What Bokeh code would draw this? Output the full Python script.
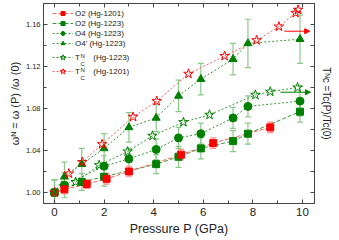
import math
from bokeh.plotting import figure
from bokeh.models import (Range1d, LinearAxis, FixedTicker, PrintfTickFormatter, ColumnDataSource,
                          Whisker, TeeHead, Legend, LegendItem, Arrow, NormalHead, Label)
from bokeh.embed import file_html
from bokeh.resources import INLINE

# ---------------- data ----------------
p_o2_1201 = [0.4, 1.3, 2.1, 3.0, 5.1, 6.4, 8.7]
w_o2_1201 = [1.003, 1.008, 1.013, 1.020, 1.036, 1.047, 1.062]
e_o2_1201 = [0.004, 0.004, 0.005, 0.005, 0.005, 0.005, 0.005]

p_o2_1223 = [0.0, 1.1, 2.0, 4.1, 5.0, 5.9, 7.2, 7.8, 9.9]
w_o2_1223 = [1.000, 1.010, 1.015, 1.027, 1.034, 1.042, 1.049, 1.056, 1.077]
e_o2_1223 = [0.012, 0.008, 0.009, 0.009, 0.010, 0.010, 0.010, 0.010, 0.010]

p_o4_1223 = [0.0, 0.4, 2.0, 3.0, 4.1, 5.0, 5.9, 7.2, 7.8, 9.9]
w_o4_1223 = [1.000, 1.007, 1.025, 1.032, 1.041, 1.052, 1.056, 1.071, 1.082, 1.087]
e_o4_1223 = [0.012, 0.012, 0.010, 0.010, 0.010, 0.010, 0.010, 0.010, 0.010, 0.014]

p_o4p_1223 = [0.0, 0.4, 1.1, 2.0, 3.0, 4.1, 5.0, 5.9, 7.2, 7.8, 9.9]
w_o4p_1223 = [1.000, 1.015, 1.027, 1.042, 1.062, 1.071, 1.092, 1.108, 1.127, 1.142, 1.146]
e_o4p_1223 = [0.012, 0.014, 0.015, 0.014, 0.014, 0.013, 0.015, 0.015, 0.015, 0.023, 0.023]

p_tc_1223 = [0.85, 1.8, 2.95, 3.95, 5.2, 6.25, 8.1, 8.7, 9.8]
t_tc_1223 = [1.010, 1.026, 1.039, 1.054, 1.067, 1.074, 1.093, 1.096, 1.100]

p_tc_1201 = [0.0, 0.58, 1.12, 1.92, 3.17, 4.12, 5.4, 6.86, 8.15, 9.05, 9.72, 9.82]
t_tc_1201 = [1.000, 1.018, 1.029, 1.046, 1.072, 1.087, 1.113, 1.130, 1.145, 1.158, 1.171, 1.174]

x_major = [0, 2, 4, 6, 8, 10]
x_minor = [1, 3, 5, 7, 9]
y_major = [1.00, 1.04, 1.08, 1.12, 1.16]
y_minor = [1.02, 1.06, 1.10, 1.14]
y_right = [1.00, 1.02, 1.04, 1.06, 1.08, 1.10, 1.12, 1.14, 1.16]

# arrows pointing to the right-hand axis (data units)
arrow_red = (9.27, 10.29, 1.1536)
arrow_green = (9.11, 10.32, 1.0955)

# ---------------- style ----------------
RED = "#ff0000"
RED_LINE = "#ff6060"
RED_ERR = "#ff9090"
GREEN = "#008000"
GREEN_LINE = "#3a9a3a"
GREEN_ERR = "#8cc88c"
TXT = "#222222"
AX = "#444444"
FONT = "Liberation Sans"

W, H = 339, 240
BL, BR, BT, BB = 43, 25, 3, 37
FW, FH = W - BL - BR, H - BT - BB

p = figure(width=W, height=H, x_range=Range1d(-0.444, 10.484), y_range=Range1d(0.9895, 1.18),
           output_backend="svg", toolbar_location=None,
           min_border_left=BL, min_border_right=BR, min_border_top=BT, min_border_bottom=BB,
           x_axis_label="Pressure P (GPa)",
           y_axis_label="\u03c9\u1d3a = \u03c9 (P) /\u03c9 (0)")
p.xgrid.visible = False
p.ygrid.visible = False
p.outline_line_color = AX
p.background_fill_color = "white"
p.border_fill_color = "white"


def style_axis(ax, size, show_labels=True):
    ax.axis_line_color = AX
    ax.major_tick_line_color = AX
    ax.minor_tick_line_color = AX
    ax.major_tick_in = 4
    ax.major_tick_out = 0
    ax.minor_tick_in = 3
    ax.minor_tick_out = 0
    ax.major_label_text_font = FONT
    if show_labels:
        ax.major_label_text_color = TXT
        ax.major_label_text_font_size = size
        ax.major_label_standoff = 2
    else:
        ax.major_label_text_color = None
        ax.major_label_text_font_size = "1px"
        ax.major_label_standoff = 0
    ax.axis_label_text_font = FONT
    ax.axis_label_text_font_style = "normal"
    ax.axis_label_text_color = TXT


xa = p.xaxis[0]
xa.ticker = FixedTicker(ticks=x_major, minor_ticks=x_minor)
style_axis(xa, "11.5px")
xa.major_label_standoff = 4
xa.axis_label_text_font_size = "12.5px"
xa.axis_label_standoff = 3

ya = p.yaxis[0]
ya.ticker = FixedTicker(ticks=y_major, minor_ticks=y_minor)
ya.formatter = PrintfTickFormatter(format="%.2f")
style_axis(ya, "7.5px")
ya.major_label_standoff = 3
ya.axis_label_text_font_size = "11px"
ya.axis_label_standoff = 2

top = LinearAxis(ticker=FixedTicker(ticks=x_major, minor_ticks=x_minor))
style_axis(top, "1px", False)
p.add_layout(top, "above")

right = LinearAxis(ticker=FixedTicker(ticks=y_right),
                   axis_label="T\u1d3ac =Tc(P)/Tc(0)")
style_axis(right, "1px", False)
right.axis_label_text_font_size = "10px"
right.axis_label_standoff = 6
p.add_layout(right, "right")


def errbars(px, py, pe, color):
    src = ColumnDataSource(dict(x=px, lo=[a - b for a, b in zip(py, pe)], hi=[a + b for a, b in zip(py, pe)]))
    wh = Whisker(source=src, base="x", lower="lo", upper="hi", dimension="height",
                 line_color=color, line_width=1.2, level="underlay",
                 upper_head=TeeHead(size=6, line_color=color, line_width=1.2),
                 lower_head=TeeHead(size=6, line_color=color, line_width=1.2))
    p.add_layout(wh)


errbars(p_o2_1223, w_o2_1223, e_o2_1223, GREEN_ERR)
errbars(p_o4_1223, w_o4_1223, e_o4_1223, GREEN_ERR)
errbars(p_o4p_1223, w_o4p_1223, e_o4p_1223, GREEN_ERR)
errbars(p_o2_1201, w_o2_1201, e_o2_1201, RED_ERR)

# lines
l_tc1201 = p.line(p_tc_1201, t_tc_1201, line_color=RED_LINE, line_dash="2 2", line_width=1)
l_tc1223 = p.line(p_tc_1223, t_tc_1223, line_color=GREEN_LINE, line_dash="2 2", line_width=1)
l_o4p = p.line(p_o4p_1223, w_o4p_1223, line_color=GREEN_LINE, line_dash="2 2", line_width=1)
l_o4 = p.line(p_o4_1223, w_o4_1223, line_color=GREEN_LINE, line_dash="2 2", line_width=1)
l_o2g = p.line(p_o2_1223, w_o2_1223, line_color=GREEN_LINE, line_dash="4 2", line_width=1)
l_o2r = p.line(p_o2_1201, w_o2_1201, line_color=RED_LINE, line_dash="4 2", line_width=1)

# markers
m_o2g = p.scatter(p_o2_1223, w_o2_1223, marker="square", size=7, fill_color=GREEN, line_color=GREEN)
m_o4 = p.scatter(p_o4_1223, w_o4_1223, marker="circle", size=8, fill_color=GREEN, line_color=GREEN)
m_o4p = p.scatter(p_o4p_1223, w_o4p_1223, marker="triangle", size=8, fill_color=GREEN, line_color=GREEN)
m_o2r = p.scatter(p_o2_1201, w_o2_1201, marker="square", size=7, fill_color=RED, line_color=RED)
m_tc1223 = p.scatter(p_tc_1223, t_tc_1223, marker="star", size=10, fill_color=None, line_color=GREEN, line_width=1)
m_tc1201 = p.scatter(p_tc_1201, t_tc_1201, marker="star", size=10, fill_color=None, line_color=RED, line_width=1)

# arrows
for (xs, xe, yv), col in ((arrow_red, RED), (arrow_green, GREEN)):
    p.add_layout(Arrow(x_start=xs, x_end=xe, y_start=yv, y_end=yv, line_color=col, line_width=1,
                       end=NormalHead(size=5, fill_color=col, line_color=col)))


# legends: location = bottom-left corner of the legend, in px from the frame's bottom-left
def make_legend(items, bottom_from_frame_bottom, row_h):
    lg = Legend(items=items, location=(9, bottom_from_frame_bottom), padding=0, margin=0, spacing=0,
                glyph_width=21, glyph_height=row_h, label_height=row_h, label_standoff=2,
                label_text_font=FONT, label_text_font_size="8px", label_text_color=TXT,
                border_line_alpha=0, background_fill_alpha=0)
    p.add_layout(lg)


make_legend([
    LegendItem(label="O2 (Hg-1201)", renderers=[l_o2r, m_o2r]),
    LegendItem(label="O2 (Hg-1223)", renderers=[l_o2g, m_o2g]),
    LegendItem(label="O4 (Hg-1223)", renderers=[l_o4, m_o4]),
    LegendItem(label="O4' (Hg-1223)", renderers=[l_o4p, m_o4p]),
], 155, 10)
NB = "\u00a0"
make_legend([
    LegendItem(label="T" + NB * 6 + "(Hg-1223)", renderers=[l_tc1223, m_tc1223]),
    LegendItem(label="T" + NB * 6 + "(Hg-1201)", renderers=[l_tc1201, m_tc1201]),
], 125, 14)


def txt(s, x, y, size, angle=0.0):
    p.add_layout(Label(x=x, y=y, x_units="screen", y_units="screen", text=s, text_font=FONT,
                       text_font_size=size, text_color=TXT, angle=angle,
                       text_baseline="alphabetic", text_align="left"))


# sub/superscripts for the legend T entries (frame-relative screen px)
for k in range(2):
    txt("N", 37, 148 - 14 * k, "6px")
    txt("C", 37, 140 - 14 * k, "6px")

open("out.html", "w").write(file_html(p, INLINE))
